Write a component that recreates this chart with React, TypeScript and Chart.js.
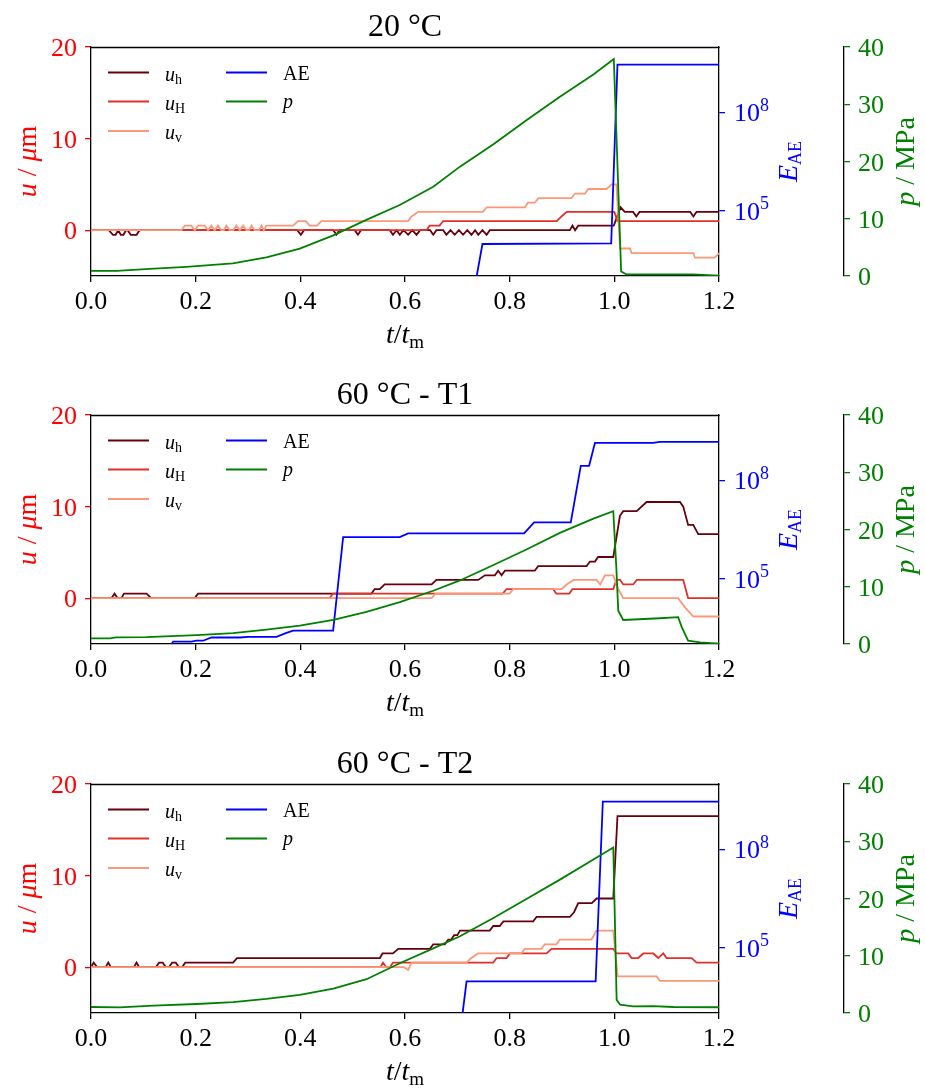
import React, { useEffect, useRef } from 'react';
import { Chart, registerables } from 'chart.js';

Chart.register(...registerables);

type Pt = [number, number];

// ---------- labels & ticks ----------
const TITLES = ['20 °C', '60 °C - T1', '60 °C - T2'];
const X_TICKS = [0, 0.2, 0.4, 0.6, 0.8, 1.0, 1.2];
const U_TICKS = [0, 10, 20];
const P_TICKS = [0, 10, 20, 30, 40];
const AE_TICKS = [1e5, 1e8];
const AE_TICK_EXP = ['5', '8'];

// ---------- panel 1 : 20 °C ----------
const P1_UH: Pt[] = [
  [0, 0], [0.034, 0], [0.042, -0.5], [0.047, -0.5], [0.052, 0], [0.057, -0.5], [0.062, -0.5], [0.067, 0],
  [0.07, 0], [0.076, -0.5], [0.087, -0.5], [0.093, 0],
  [0.394, 0], [0.401, -0.5], [0.407, 0],
  [0.463, 0], [0.469, -0.5], [0.475, 0],
  [0.504, 0], [0.51, -0.5], [0.516, 0],
  [0.571, 0], [0.577, -0.5], [0.584, 0], [0.59, -0.5], [0.597, 0], [0.606, -0.5], [0.614, 0], [0.622, -0.5], [0.629, 0],
  [0.648, 0], [0.654, -0.5], [0.66, 0], [0.673, 0], [0.679, -0.5], [0.687, 0], [0.695, -0.5], [0.703, 0],
  [0.711, -0.5], [0.719, 0], [0.727, -0.5], [0.734, 0], [0.74, -0.5], [0.748, 0], [0.756, -0.5], [0.762, 0],
  [0.915, 0], [0.92, 0.5], [0.925, 0], [0.931, 0.5], [0.999, 0.5], [1.012, 2.5], [1.02, 2], [1.036, 2],
  [1.042, 1.5], [1.048, 2], [1.145, 2], [1.151, 1.5], [1.157, 2], [1.2, 2],
];
const P1_UHH: Pt[] = [
  [0, 0], [0.641, 0], [0.647, 0.5], [0.666, 0.5], [0.673, 1], [0.89, 1], [0.899, 1.5], [0.909, 2],
  [1.0, 2], [1.006, 1], [1.2, 1],
];
const P1_UV: Pt[] = [
  [0, 0], [0.1728, 0], [0.1792, 0.5], [0.1919, 0.5], [0.1983, 0], [0.2046, 0.5], [0.2174, 0.5], [0.2237, 0],
  [0.2301, 0.5], [0.2365, 0], [0.2428, 0.5], [0.2492, 0], [0.2537, 0], [0.2588, 0.5], [0.2651, 0], [0.2715, 0],
  [0.2779, 0.5], [0.2843, 0], [0.2907, 0.5], [0.297, 0], [0.3021, 0], [0.3066, 0.5], [0.313, 0], [0.3212, 0],
  [0.3257, 0.5], [0.3302, 0], [0.3353, 0.5], [0.3862, 0.5], [0.3957, 1], [0.4104, 1], [0.418, 0.5], [0.432, 0.5],
  [0.44, 1], [0.6061, 1], [0.6125, 1.5], [0.6252, 2], [0.749, 2], [0.756, 2.5], [0.829, 2.5], [0.835, 3],
  [0.848, 3], [0.855, 3.5], [0.918, 3.5], [0.925, 4], [0.944, 4], [0.95, 4.5], [0.985, 4.5], [0.995, 5],
  [1.004, 5], [1.011, -2], [1.03, -2], [1.033, -2.5], [1.151, -2.5], [1.154, -3], [1.192, -3], [1.2, -2.5],
];
const P1_AE: Pt[] = [[0.72, 30], [0.748, 9500], [0.994, 10000], [1.006, 2.9e9], [1.2, 2.9e9]];
const P1_P: Pt[] = [
  [0, 0.9], [0.049, 0.9], [0.112, 1.25], [0.182, 1.6], [0.271, 2.2], [0.335, 3.25], [0.399, 4.8], [0.463, 7.1],
  [0.526, 9.8], [0.59, 12.4], [0.654, 15.6], [0.705, 19.1], [0.769, 23.0], [0.832, 27.2], [0.896, 31.3],
  [0.96, 35.2], [0.999, 37.9], [1.013, 0.8], [1.023, 0.3], [1.15, 0.3], [1.2, 0.05],
];

// ---------- panel 2 : 60 °C - T1 ----------
const P2_UH: Pt[] = [
  [0, 0], [0.039, 0], [0.045, 0.5], [0.051, 0], [0.058, 0], [0.063, 0.5], [0.106, 0.5], [0.115, 0],
  [0.198, 0], [0.2045, 0.5], [0.536, 0.5], [0.542, 1], [0.552, 1], [0.561, 1.5], [0.651, 1.5], [0.66, 2],
  [0.74, 2], [0.7526, 2.5], [0.7717, 2.5], [0.778, 3], [0.7845, 2.5], [0.791, 3], [0.848, 3], [0.8545, 3.5],
  [0.947, 3.5], [0.9534, 4], [0.963, 4], [0.969, 4.5], [0.998, 4.5], [1.0107, 9], [1.017, 9.5], [1.0426, 9.5],
  [1.0617, 10.5], [1.1254, 10.5], [1.1317, 10], [1.141, 8], [1.1508, 8], [1.1604, 7], [1.2, 7],
];
const P2_UHH: Pt[] = [
  [0, 0], [0.456, 0], [0.462, 0.5], [0.787, 0.5], [0.794, 1], [0.883, 1], [0.889, 0.5], [0.914, 0.5],
  [0.92, 1], [0.998, 1], [1.004, 2], [1.011, 2], [1.017, 1.5], [1.036, 1.5], [1.043, 2], [1.1317, 2],
  [1.141, 0], [1.2, 0],
];
const P2_UV: Pt[] = [
  [0, 0], [0.651, 0], [0.658, 0.5], [0.8, 0.5], [0.807, 1], [0.899, 1], [0.909, 1.5], [0.922, 2],
  [0.966, 2], [0.973, 1.5], [0.982, 2.5], [0.998, 2.5], [1.0075, 1], [1.017, 0], [1.122, 0], [1.135, -1],
  [1.151, -2], [1.2, -2],
];
const P2_AE: Pt[] = [
  [0.148, 700], [0.157, 1190], [0.192, 1190], [0.2014, 1260], [0.2142, 1260], [0.2302, 1580], [0.2843, 1580],
  [0.3002, 1660], [0.3544, 1660], [0.3735, 2190], [0.3862, 2570], [0.4627, 2570], [0.4818, 1.86e6],
  [0.59, 1.86e6], [0.606, 2.4e6], [0.8276, 2.4e6], [0.8467, 5.25e6], [0.9168, 5.25e6], [0.9359, 2.8e8],
  [0.9518, 2.8e8], [0.963, 1.41e9], [1.074, 1.41e9], [1.087, 1.51e9], [1.2, 1.51e9],
];
const P2_P: Pt[] = [
  [0, 1.0], [0.036, 1.0], [0.048, 1.15], [0.106, 1.2], [0.2015, 1.55], [0.2715, 1.9], [0.335, 2.5], [0.399, 3.2],
  [0.463, 4.2], [0.5265, 5.6], [0.59, 7.3], [0.654, 9.3], [0.705, 11.1], [0.769, 13.8], [0.832, 16.5],
  [0.896, 19.4], [0.96, 21.9], [0.998, 23.2], [1.004, 13.0], [1.0075, 5.8], [1.017, 4.2], [1.087, 4.5],
  [1.122, 4.7], [1.129, 2.9], [1.141, 0.6], [1.164, 0.3], [1.2, 0.05],
];

// ---------- panel 3 : 60 °C - T2 ----------
const P3_UH: Pt[] = [
  [0, 0], [0.005, 0.5], [0.012, 0], [0.028, 0], [0.033, 0.5], [0.038, 0], [0.082, 0], [0.087, 0.5], [0.092, 0],
  [0.124, 0], [0.13, 0.5], [0.137, 0.5], [0.143, 0], [0.149, 0], [0.155, 0.5], [0.162, 0.5], [0.168, 0],
  [0.174, 0], [0.18, 0.5], [0.2715, 0.5], [0.279, 1], [0.552, 1], [0.557, 1.5], [0.577, 1.5], [0.587, 2],
  [0.6475, 2], [0.654, 2.5], [0.676, 2.5], [0.6825, 3], [0.688, 3], [0.694, 3.5], [0.7, 3.5], [0.705, 4],
  [0.762, 4], [0.7686, 4.5], [0.781, 4.5], [0.788, 5], [0.845, 5], [0.8515, 5.5], [0.915, 5.5], [0.923, 6],
  [0.931, 7], [0.957, 7], [0.966, 7.5], [0.998, 7.5], [1.006, 16.5], [1.2, 16.5],
];
const P3_UHH: Pt[] = [
  [0, 0], [0.553, 0], [0.558, 0.5], [0.564, 0], [0.571, 0], [0.577, 0.5], [0.7686, 0.5], [0.775, 1],
  [0.794, 1], [0.8004, 1.5], [0.8706, 1.5], [0.88, 2], [0.998, 2], [1.004, 1.5], [1.0266, 1.5], [1.033, 1],
  [1.0457, 1], [1.0553, 1.5], [1.0744, 1.5], [1.084, 1], [1.0935, 1.5], [1.0999, 1], [1.1477, 1],
  [1.1573, 0.5], [1.2, 0.5],
];
const P3_UV: Pt[] = [
  [0, 0], [0.598, 0], [0.606, -0.3], [0.6125, 0.5], [0.7176, 0.5], [0.7267, 1], [0.7394, 1.5], [0.8223, 1.5],
  [0.8287, 2], [0.8606, 2], [0.867, 2.5], [0.8893, 2.5], [0.8957, 3], [0.9562, 3], [0.9658, 4], [0.998, 4],
  [1.0063, -1], [1.0808, -1], [1.0872, -1.5], [1.2, -1.5],
];
const P3_AE: Pt[] = [[0.7, 50], [0.7176, 9300], [0.9643, 9300], [0.978, 2.9e9], [1.2, 2.9e9]];
const P3_P: Pt[] = [
  [0, 1.05], [0.055, 1.0], [0.119, 1.3], [0.2015, 1.57], [0.2715, 1.9], [0.335, 2.45], [0.399, 3.15],
  [0.463, 4.25], [0.5265, 5.9], [0.59, 8.7], [0.654, 11.3], [0.705, 13.4], [0.769, 16.6], [0.832, 19.9],
  [0.896, 23.3], [0.96, 26.8], [0.998, 28.9], [1.0044, 2.3], [1.011, 1.45], [1.036, 1.15],
  [1.074, 1.2], [1.113, 1.05], [1.2, 1.0],
];

const PANELS = [
  { uh: P1_UH, uH: P1_UHH, uv: P1_UV, ae: P1_AE, p: P1_P },
  { uh: P2_UH, uH: P2_UHH, uv: P2_UV, ae: P2_AE, p: P2_P },
  { uh: P3_UH, uH: P3_UHH, uv: P3_UV, ae: P3_AE, p: P3_P },
];

// ---------- styles ----------
const C_UH = '#67000d';
const C_UHH = '#e0302a';
const C_UV = '#fc9878';
const C_AE = '#0000ff';
const C_P = '#008000';
const RED = '#ff0000';
const BLUE = '#0000ff';
const GREEN = '#008000';
const FAM = '"Liberation Serif", "DejaVu Serif", serif';
const F = (size: number, style = '') => `${style} ${size}px ${FAM}`.trim();

const CANVAS_W = 925;
const CANVAS_H = 351;
const PANEL_TOPS = [0, 368, 737];

type Run = { t: string; f: string; dy?: number };

function drawRuns(ctx: CanvasRenderingContext2D, runs: Run[], x: number, y: number, align: 'left' | 'center' | 'right', color: string) {
  let w = 0;
  for (const r of runs) { ctx.font = r.f; w += ctx.measureText(r.t).width; }
  let cx = align === 'left' ? x : align === 'center' ? x - w / 2 : x - w;
  ctx.fillStyle = color;
  ctx.textAlign = 'left';
  ctx.textBaseline = 'alphabetic';
  for (const r of runs) {
    ctx.font = r.f;
    ctx.fillText(r.t, cx, y + (r.dy || 0));
    cx += ctx.measureText(r.t).width;
  }
}

const textPlugin = {
  id: 'texts',
  afterDraw(chart: any) {
    const { ctx, chartArea: ca, scales } = chart;
    const o = chart.options.plugins.texts;
    const cxm = (ca.left + ca.right) / 2;
    const cym = (ca.top + ca.bottom) / 2;
    ctx.save();
    // top spine
    ctx.strokeStyle = '#000';
    ctx.lineWidth = 1.3;
    ctx.beginPath();
    ctx.moveTo(ca.left - 0.6, Math.round(ca.top) + 0.5);
    ctx.lineTo(ca.right + 0.6, Math.round(ca.top) + 0.5);
    ctx.stroke();

    // title
    drawRuns(ctx, [{ t: o.title, f: F(32) }], cxm, ca.top - 11.5, 'center', '#000');

    // x tick labels & title
    for (const v of X_TICKS) {
      drawRuns(ctx, [{ t: v.toFixed(1), f: F(26) }], scales.x.getPixelForValue(v), ca.bottom + 33, 'center', '#000');
    }
    drawRuns(ctx, [
      { t: 't', f: F(28, 'italic') }, { t: '/', f: F(28) }, { t: 't', f: F(28, 'italic') }, { t: 'm', f: F(19), dy: 5 },
    ], cxm, ca.bottom + 67, 'center', '#000');

    // u axis
    for (const v of U_TICKS) {
      drawRuns(ctx, [{ t: String(v), f: F(26) }], ca.left - 14, scales.u.getPixelForValue(v) + 9, 'right', RED);
    }
    ctx.save();
    ctx.translate(36, cym);
    ctx.rotate(-Math.PI / 2);
    drawRuns(ctx, [
      { t: 'u', f: F(28, 'italic') }, { t: ' / ', f: F(28) }, { t: 'μ', f: F(28, 'italic') }, { t: 'm', f: F(28) },
    ], 0, 0, 'center', RED);
    ctx.restore();

    // AE axis
    AE_TICKS.forEach((v, k) => {
      const y = scales.ae.getPixelForValue(v);
      drawRuns(ctx, [{ t: '10', f: F(26) }, { t: AE_TICK_EXP[k], f: F(18), dy: -10.5 }], ca.right + 15, y + 9, 'left', BLUE);
    });
    ctx.save();
    ctx.translate(ca.right + 78, cym);
    ctx.rotate(-Math.PI / 2);
    drawRuns(ctx, [{ t: 'E', f: F(28, 'italic') }, { t: 'AE', f: F(18), dy: 3.5 }], 0, 0, 'center', BLUE);
    ctx.restore();

    // p axis
    const pLeft = scales.p.left;
    for (const v of P_TICKS) {
      drawRuns(ctx, [{ t: String(v), f: F(26) }], pLeft + 14, scales.p.getPixelForValue(v) + 9, 'left', GREEN);
    }
    ctx.save();
    ctx.translate(914, cym);
    ctx.rotate(-Math.PI / 2);
    drawRuns(ctx, [{ t: 'p', f: F(28, 'italic') }, { t: ' / MPa', f: F(28) }], 0, 0, 'center', GREEN);
    ctx.restore();

    // legend
    const rows = [25.5, 54.5, 84];
    const items: { color: string; runs: Run[]; col: number; row: number; dy: number }[] = [
      { color: C_UH, runs: [{ t: 'u', f: F(20, 'italic') }, { t: 'h', f: F(14), dy: 3 }], col: 0, row: 0, dy: 8 },
      { color: C_UHH, runs: [{ t: 'u', f: F(20, 'italic') }, { t: 'H', f: F(14), dy: 3 }], col: 0, row: 1, dy: 8 },
      { color: C_UV, runs: [{ t: 'u', f: F(20, 'italic') }, { t: 'v', f: F(14), dy: 3 }], col: 0, row: 2, dy: 8 },
      { color: C_AE, runs: [{ t: 'AE', f: F(20) }], col: 1, row: 0, dy: 7.5 },
      { color: C_P, runs: [{ t: 'p', f: F(20, 'italic') }], col: 1, row: 1, dy: 6 },
    ];
    const colX = [17, 135];
    for (const it of items) {
      const y = ca.top + rows[it.row];
      const x0 = ca.left + colX[it.col];
      ctx.strokeStyle = it.color;
      ctx.lineWidth = 1.8;
      ctx.beginPath();
      ctx.moveTo(x0, y);
      ctx.lineTo(x0 + 41, y);
      ctx.stroke();
      drawRuns(ctx, it.runs, x0 + 57, y + it.dy, 'left', '#000');
    }
    ctx.restore();
  },
};

function axis(tickColor: string, extra: any) {
  return {
    ticks: { display: false },
    grid: {
      display: true, drawOnChartArea: false, drawTicks: true, tickLength: 6,
      tickWidth: 1.3, tickColor, color: tickColor, lineWidth: 1.3,
    },
    border: { display: true, color: '#000', width: 1.3 },
    ...extra,
  };
}

function setTicks(values: number[]) {
  return (s: any) => { s.ticks = values.map((value) => ({ value })); };
}

function buildConfig(i: number): any {
  const P = PANELS[i];
  const ds = (pts: Pt[], color: string, yAxisID: string, order: number) => ({
    data: pts.map(([x, y]) => ({ x, y })),
    borderColor: color,
    backgroundColor: color,
    borderWidth: 1.8,
    pointRadius: 0,
    pointHoverRadius: 0,
    tension: 0,
    fill: false,
    xAxisID: 'x',
    yAxisID,
    order,
  });
  return {
    type: 'line',
    data: {
      datasets: [
        ds(P.uh, C_UH, 'u', 4),
        ds(P.uH, C_UHH, 'u', 3),
        ds(P.uv, C_UV, 'u', 2),
        ds(P.ae, C_AE, 'ae', 1),
        ds(P.p, C_P, 'p', 0),
      ],
    },
    options: {
      responsive: false,
      maintainAspectRatio: false,
      animation: false,
      events: [],
      layout: { padding: { top: 47, bottom: 15, left: 0, right: 0 } },
      plugins: {
        legend: { display: false },
        tooltip: { enabled: false },
        title: { display: false },
        texts: { title: TITLES[i] },
      },
      scales: {
        x: axis('#000', {
          type: 'linear', position: 'bottom', min: 0, max: 1.2,
          afterBuildTicks: setTicks(X_TICKS),
          afterFit: (s: any) => { s.height = 60; },
        }),
        u: axis(RED, {
          type: 'linear', position: 'left', min: -5, max: 20,
          afterBuildTicks: setTicks(U_TICKS),
          afterFit: (s: any) => { s.width = 91; },
        }),
        ae: axis(BLUE, {
          type: 'logarithmic', position: 'right', min: 1e3, max: 1e10, weight: 0,
          afterBuildTicks: setTicks(AE_TICKS),
          afterFit: (s: any) => { s.width = 125; },
        }),
        p: axis(GREEN, {
          type: 'linear', position: 'right', min: 0, max: 40, weight: 1,
          afterBuildTicks: setTicks(P_TICKS),
          afterFit: (s: any) => { s.width = 81; },
        }),
      },
    },
    plugins: [textPlugin],
  };
}

function Panel({ idx }: { idx: number }) {
  const ref = useRef<HTMLCanvasElement>(null);
  useEffect(() => {
    if (!ref.current) return;
    const chart = new Chart(ref.current, buildConfig(idx));
    return () => chart.destroy();
  }, [idx]);
  return (
    <canvas
      ref={ref}
      width={CANVAS_W}
      height={CANVAS_H}
      style={{ position: 'absolute', left: 0, top: PANEL_TOPS[idx], width: CANVAS_W, height: CANVAS_H }}
    />
  );
}

export default function App() {
  return (
    <div style={{ position: 'absolute', left: 0, top: 0, width: 925, height: 1088, overflow: 'hidden', background: '#fff' }}>
      <Panel idx={0} />
      <Panel idx={1} />
      <Panel idx={2} />
    </div>
  );
}
